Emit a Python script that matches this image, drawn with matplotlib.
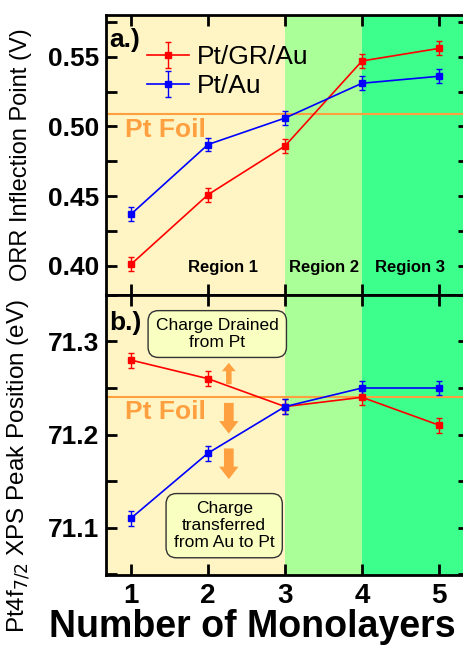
import matplotlib
matplotlib.use("Agg")
import matplotlib.pyplot as plt
from matplotlib.ticker import MultipleLocator

plt.rcParams["font.family"] = ["Liberation Sans", "DejaVu Sans"]

# données
layers = [1, 2, 3, 4, 5]
orr_grau = [0.401, 0.451, 0.486, 0.547, 0.556]
orr_au = [0.437, 0.487, 0.506, 0.531, 0.536]
orr_err = [0.005, 0.005, 0.005, 0.005, 0.005]
orr_foil = 0.509

xps_grau = [71.28, 71.26, 71.23, 71.24, 71.21]
xps_au = [71.11, 71.18, 71.23, 71.25, 71.25]
xps_err = [0.008, 0.008, 0.008, 0.008, 0.008]
xps_foil = 71.24

regions = [(0.5, 3.0, "#FFF5C4"), (3.0, 4.0, "#AAFF99"), (4.0, 6.0, "#3DFF8C")]
region_labels = ["Region 1", "Region 2", "Region 3"]
region_x = [2.19, 3.5, 4.62]

RED = "#FF0000"
BLUE = "#0000FF"
ORANGE = "#FFA040"

fig = plt.figure(figsize=(4.64, 6.48), dpi=100)
left, right = 0.2284, 1.01
ax1 = fig.add_axes([left, 0.5448, right - left, 0.9769 - 0.5448])
ax2 = fig.add_axes([left, 0.1127, right - left, 0.5448 - 0.1127])

for ax in (ax1, ax2):
    for x0, x1, c in regions:
        ax.axvspan(x0, x1, color=c, lw=0, zorder=0)
    ax.set_xlim(0.675, 5.384)
    ax.xaxis.set_major_locator(MultipleLocator(1))
    ax.tick_params(which="both", direction="in", top=True, right=True,
                   length=8, width=2)
    ax.tick_params(axis="y", labelsize=19, pad=5)
    ax.tick_params(axis="x", labelsize=20, pad=6)
    for sp in ax.spines.values():
        sp.set_linewidth(2)

# a.) ORR
ax1.axhline(orr_foil, color=ORANGE, lw=1.5, zorder=1)
ax1.errorbar(layers, orr_grau, yerr=orr_err, color=RED, marker="s", ms=4.5,
             lw=1.2, capsize=2.5, elinewidth=1, label="Pt/GR/Au", zorder=3)
ax1.errorbar(layers, orr_au, yerr=orr_err, color=BLUE, marker="s", ms=4.5,
             lw=1.2, capsize=2.5, elinewidth=1, label="Pt/Au", zorder=3)
ax1.set_ylim(0.379, 0.580)
ax1.yaxis.set_major_locator(MultipleLocator(0.05))
ax1.yaxis.set_minor_locator(MultipleLocator(0.025))
ax1.yaxis.set_major_formatter(plt.FormatStrFormatter("%.2f"))
ax1.tick_params(labelbottom=False)
ax1.set_ylabel("ORR Inflection Point (V)", fontsize=17)
ax1.yaxis.set_label_coords(-0.204, 0.50)
ax1.text(0.72, 0.562, "a.)", fontsize=19, fontweight="bold", va="center")
ax1.text(0.92, 0.4976, "Pt Foil", fontsize=19, fontweight="bold",
         color=ORANGE, va="center")
for lab, x in zip(region_labels, region_x):
    ax1.text(x, 0.399, lab, fontsize=12, fontweight="bold", ha="center", va="center")
ax1.legend(loc="upper left", bbox_to_anchor=(0.083, 0.93), frameon=False,
           fontsize=19, handlelength=1.6, handletextpad=0.3, labelspacing=0.2,
           borderaxespad=0)

# b.) XPS
ax2.axhline(xps_foil, color=ORANGE, lw=1.5, zorder=1)
ax2.errorbar(layers, xps_grau, yerr=xps_err, color=RED, marker="s", ms=4.5,
             lw=1.2, capsize=2.5, elinewidth=1, zorder=3)
ax2.errorbar(layers, xps_au, yerr=xps_err, color=BLUE, marker="s", ms=4.5,
             lw=1.2, capsize=2.5, elinewidth=1, zorder=3)
ax2.set_ylim(71.049, 71.35)
ax2.yaxis.set_major_locator(MultipleLocator(0.1))
ax2.yaxis.set_minor_locator(MultipleLocator(0.05))
ax2.yaxis.set_major_formatter(plt.FormatStrFormatter("%.1f"))
ax2.set_ylabel(r"Pt4f$_{7/2}$ XPS Peak Position (eV)", fontsize=17.5)
ax2.yaxis.set_label_coords(-0.204, 0.39)
fig.text(252 / 464, 1 - 637 / 648, "Number of Monolayers", fontsize=27,
         fontweight="bold", ha="center", va="baseline")
ax2.text(0.72, 71.32, "b.)", fontsize=19, fontweight="bold", va="center")
ax2.text(0.92, 71.224, "Pt Foil", fontsize=19, fontweight="bold",
         color=ORANGE, va="center")

box = dict(boxstyle="round,pad=0.45,rounding_size=0.6", fc="#F8FFC0",
           ec="#333333", lw=1)
ax2.text(2.12, 71.308, "Charge Drained\nfrom Pt", fontsize=12.5, ha="center",
         va="center", bbox=box, linespacing=1.1, zorder=4)
ax2.text(2.21, 71.102, "Charge\ntransferred\nfrom Au to Pt", fontsize=12.5,
         ha="center", va="center", bbox=box, linespacing=1.15, zorder=4)

arrows = [(71.254, 71.277, 4, 10, 6), (71.234, 71.201, 7, 14, 9),
          (71.185, 71.152, 7, 14, 9)]
for y0, y1, w, hw, hl in arrows:
    ax2.annotate("", xy=(2.27, y1), xytext=(2.27, y0),
                 arrowprops=dict(arrowstyle=f"simple,head_width={hw/10},head_length={hl/10},tail_width={w/10}",
                                 fc=ORANGE, ec="none", shrinkA=0, shrinkB=0),
                 zorder=4)

for ax in (ax1, ax2):
    for lab in ax.get_yticklabels() + ax.get_xticklabels():
        lab.set_fontweight("bold")

fig.savefig("out.png", dpi=100)
